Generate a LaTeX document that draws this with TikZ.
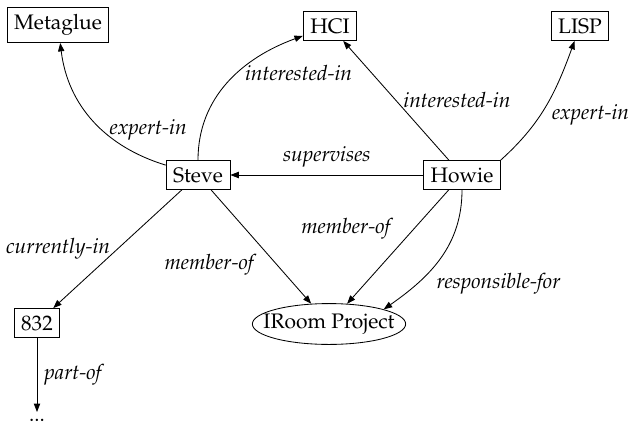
\documentclass[tikz,border=0pt]{standalone}
\usepackage[T1]{fontenc}
\usepackage{mathpazo}
\usetikzlibrary{arrows.meta,shapes.geometric}

\begin{document}
\begin{tikzpicture}[x=0.476pt, y=0.476pt,
		concept/.style={draw, rectangle},
		project/.style={draw, ellipse, inner xsep=-5.4pt, inner ysep=2pt},
		rel/.style={font=\itshape},
		link/.style={-{Triangle[length=4pt,width=3pt]}}]
			\useasboundingbox (0,0) rectangle (631,424);
			\node [concept] (metaglue) at (58,399) {Metaglue};
			\node [concept] (hci) at (330,398) {HCI};
			\node [concept] (lisp) at (580,398) {LISP};
			\node [concept] (steve) at (198,249) {Steve};
			\node [concept] (howie) at (462,249) {Howie};
			\node [concept] (room) at (37,101) {832};
			\node [project] (iroom) at (329,100) {IRoom Project};
			\node (dots) [anchor=north] at (37,12) {...};
			\draw [link] (steve) to [out=163, in=-83] node [rel, pos=0.42, anchor=west] {expert-in} (metaglue);
			\draw [link] (steve) to [out=90, in=200] node [rel, pos=0.58, anchor=west] {interested-in} (hci);
			\draw [link] (howie) -- node [rel, anchor=west] {interested-in} (hci);
			\draw [link] (howie.north east) to [out=42, in=-110] node [rel, pos=0.42, anchor=west, xshift=2pt] {expert-in} (lisp);
			\draw [link] (howie) -- node [rel, above] {supervises} (steve);
			\draw [link] (steve) -- node [rel, anchor=east] {currently-in} (room);
			\draw [link] (steve) -- node [rel, anchor=north east] {member-of} (iroom);
			\draw [link] (howie) -- node [rel, anchor=south east] {member-of} (iroom);
			\draw [link] (howie) to [out=-90, in=35] node [rel, pos=0.7, anchor=west, xshift=4pt, yshift=-2pt] {responsible-for} (iroom.15);
			\draw [link] (room) -- node [rel, right] {part-of} (dots);
		\end{tikzpicture}
\end{document}
